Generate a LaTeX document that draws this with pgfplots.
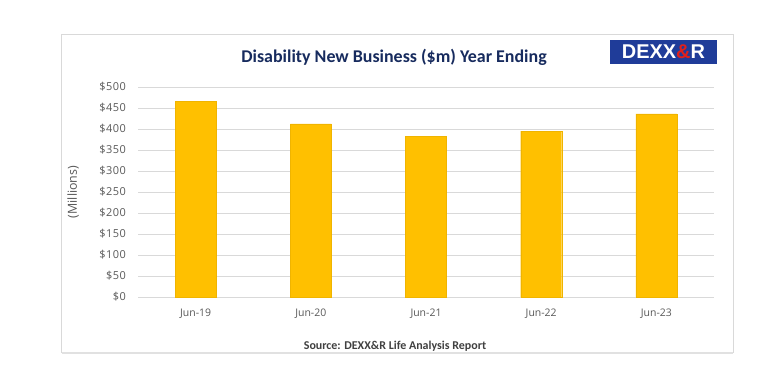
\documentclass[border=0pt]{standalone}
\usepackage{pgfplots}
\pgfplotsset{compat=1.18}
\usepackage{fontspec}
\setmainfont{Carlito}
\newfontfamily\tickfont{Open Sans}
\newfontfamily\ytickfont[LetterSpace=4]{Open Sans}
\newfontfamily\logofont{Liberation Sans}
\definecolor{bargold}{HTML}{FFC000}
\definecolor{gridgray}{HTML}{D9D9D9}
\definecolor{ticktxt}{HTML}{595959}
\definecolor{titlenavy}{HTML}{172B5E}
\definecolor{logoblue}{HTML}{1F3C99}
\definecolor{logored}{HTML}{E0201B}
\begin{document}
\begin{tikzpicture}[x=1bp,y=1bp]
\fill[white] (0,0) rectangle (779,380);
\draw[gridgray, line width=1bp] (61,28) rectangle (733,345);
\draw[gridgray!80, line width=2bp] (62,27) -- (733,27);
\begin{axis}[
  name=ax,
  at={(138bp,83bp)}, anchor=south west,
  scale only axis, width=576bp, height=210bp,
  xmin=-0.5, xmax=4.5, ymin=0, ymax=500,
  ytick={0,50,...,500},
  xtick=data,
  xticklabels={Jun-19,Jun-20,Jun-21,Jun-22,Jun-23},
  axis line style={draw=none},
  major tick length=0pt,
  ymajorgrids, grid style={gridgray, line width=0.8bp},
  /pgf/number format/assume math mode=true,
  yticklabel={\$\pgfmathprintnumber{\tick}},
  yticklabel style={anchor=east, inner sep=0pt, xshift=-12bp, font=\ytickfont\fontsize{11}{13}\selectfont, text=ticktxt},
  xticklabel style={anchor=north, inner sep=0pt, yshift=-12bp, font=\tickfont\fontsize{10.5}{13}\selectfont, text=ticktxt},
  ylabel={(Millions)}, ylabel style={font=\tickfont\fontsize{12.5}{14}\selectfont, text=ticktxt, at={(axis description cs:-0.1128,0.5)}, anchor=center},
  clip=false,
]
\addplot[ybar, bar width=41bp, fill=bargold, draw=bargold!80!black!30!bargold, line width=0.4bp] coordinates {(0,466) (1,412) (2,383) (3,395) (4,436)};
\end{axis}
\node[text=titlenavy, font=\fontsize{18}{21}\bfseries, anchor=base] at (394,318) {Disability New Business (\$m) Year Ending};
\node[font=\fontsize{12}{14}\bfseries, text=black!75, anchor=base] at (395,31) {Source: DEXX\&R Life Analysis Report};
\fill[logoblue] (610,316) rectangle (717,340);
\node[font=\logofont\fontsize{20}{22}\bfseries, inner sep=0pt] at (663.5,328) {\textcolor{white}{DEXX}\textcolor{logored}{\&}\textcolor{white}{R}};
\end{tikzpicture}
\end{document}
